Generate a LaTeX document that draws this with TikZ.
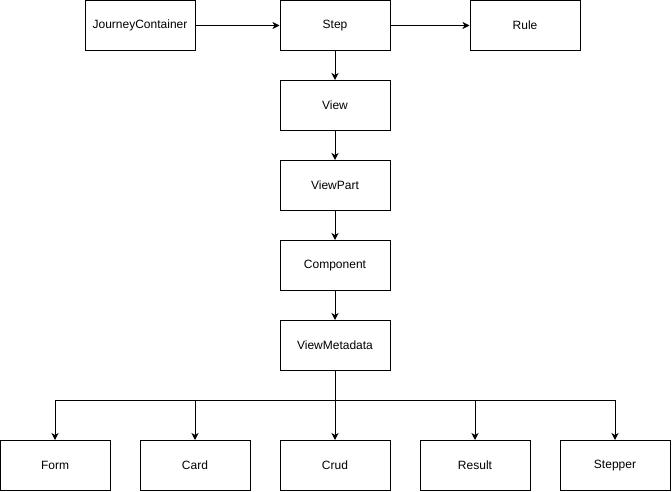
\documentclass[tikz,border=0pt]{standalone}
\usepackage{fontspec}
\setmainfont{Liberation Sans}
\usetikzlibrary{arrows.meta}
\begin{document}
\begin{tikzpicture}[x=1pt,y=-1pt,
  box/.style={draw=black,line width=1pt,minimum width=110pt,minimum height=50pt,inner sep=0pt,font=\fontsize{12}{14}\selectfont,fill=white},
  conn/.style={draw=black,line width=1pt,-{Stealth[length=7pt,width=7pt,inset=2pt]}}]
\useasboundingbox (0,0) rectangle (672,492);
\node[box] (jc) at (140,25.5) {JourneyContainer};
\node[box] (step) at (335,25.5) {Step};
\node[box] (rule) at (525,25.5) {Rule};
\node[box] (view) at (335,105.5) {View};
\node[box] (vp) at (335,185.5) {ViewPart};
\node[box] (comp) at (335,265.5) {Component};
\node[box] (vm) at (335,345.5) {ViewMetadata};
\node[box] (form) at (55,465.5) {Form};
\node[box] (card) at (195,465.5) {Card};
\node[box] (crud) at (335,465.5) {Crud};
\node[box] (res) at (475,465.5) {Result};
\node[box] (stp) at (615,465.5) {Stepper};
\coordinate (br) at (335,400.5);
\draw[conn] (jc) -- (step);
\draw[conn] (step) -- (rule);
\draw[conn] (step) -- (view);
\draw[conn] (view) -- (vp);
\draw[conn] (vp) -- (comp);
\draw[conn] (comp) -- (vm);
\draw[conn] (vm) -- (crud);
\draw[conn] (br) -| (form);
\draw[conn] (br) -| (card);
\draw[conn] (br) -| (res);
\draw[conn] (br) -| (stp);
\end{tikzpicture}
\end{document}
